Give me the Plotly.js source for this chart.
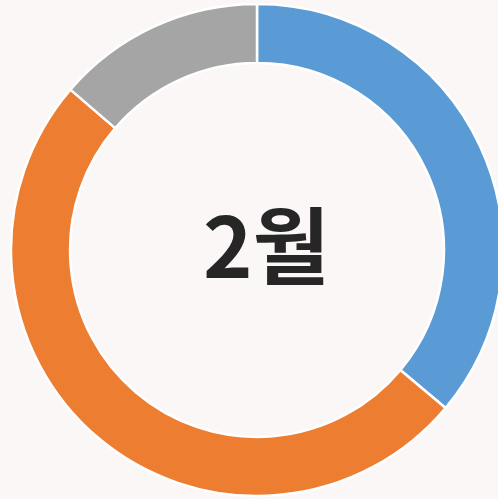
<!DOCTYPE html>
<html>
<head>
<meta charset="utf-8">
<script src="https://cdn.plot.ly/plotly-3.0.1.min.js"></script>
<style>
html,body{margin:0;padding:0;overflow:hidden;background:#fcf7f7;}
#chart{width:514px;height:499px;}
</style>
</head>
<body>
<div id="chart"></div>
<script>
const labels = ["A", "B", "C"];
const values = [36.1, 50.2, 13.7];
const colors = ["#5B9BD5", "#ED7D31", "#A5A5A5"];
const centerText = "2월";

Plotly.newPlot("chart", [{
  type: "pie",
  labels: labels,
  values: values,
  hole: 0.76,
  sort: false,
  direction: "clockwise",
  rotation: 0,
  textinfo: "none",
  hoverinfo: "none",
  marker: {colors: colors, line: {color: "#ffffff", width: 2.5}}
}], {
  width: 514, height: 499,
  margin: {l: 11, r: 11, t: 4, b: 3},
  paper_bgcolor: "#fcf7f7",
  plot_bgcolor: "#fcf7f7",
  showlegend: false,
  annotations: [{
    text: "<b>" + centerText + "</b>",
    x: 0.5, y: 0.5, xref: "paper", yref: "paper",
    xanchor: "center", yanchor: "middle",
    xshift: 9, yshift: 9,
    showarrow: false,
    font: {family: "Noto Sans CJK KR", size: 84, color: "#262626"}
  }]
}, {displayModeBar: false, staticPlot: true});
</script>
</body>
</html>
